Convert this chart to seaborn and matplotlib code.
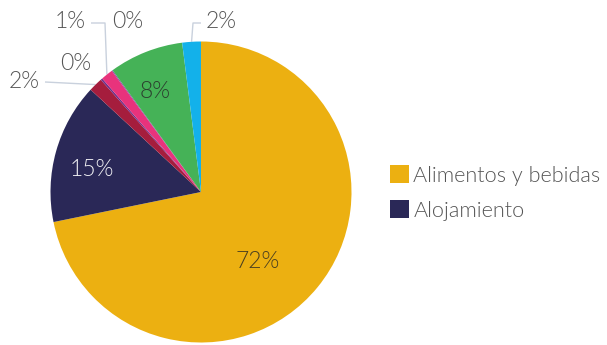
import matplotlib
matplotlib.use("Agg")
import matplotlib.pyplot as plt
import seaborn as sns
import numpy as np

# Spending share by category (percent)
categories = ["Alimentos y bebidas", "Alojamiento", "Transporte", "Salud",
              "Compras", "Comunicaciones", "Recreación", "Otros"]
values = [71.8, 15.1, 1.5, 0.2, 1.3, 0.1, 8.0, 2.0]
colors = ["#ECB011", "#2A2857", "#A51D3D", "#6E2F8A", "#E8337C",
          "#8A3FA0", "#45B257", "#13B1EA"]
legend_count = 2

sns.set_theme(style="white")
plt.rcParams["font.family"] = ["Lato", "DejaVu Sans"]

W, H = 607, 345
fig = plt.figure(figsize=(W / 100, H / 100), dpi=100)
R_PX = 150.5
cx, cy = 201, 345 - 192
span = 1.35
side = 2 * span * R_PX
ax = fig.add_axes([(cx - side / 2) / W, (cy - side / 2) / H, side / W, side / H])

wedges, _ = ax.pie(values, colors=colors, startangle=90, counterclock=False,
                   radius=1.0, wedgeprops=dict(linewidth=0))
ax.set_xlim(-span, span)
ax.set_ylim(-span, span)
ax.set_aspect("equal")
ax.axis("off")

labels = [f"{round(v)}%" for v in values]
text_gray = "#555555"
line_col = "#C9D1DD"
fs = 16.5
legend_fs = 15.6
weight = 300

def edge(i, r=1.0):
    w = wedges[i]
    a = np.deg2rad((w.theta1 + w.theta2) / 2)
    return r * np.cos(a), r * np.sin(a)

def p2d(px, py):
    return (px - cx) / R_PX, (192 - py) / R_PX

# labels inside the large slices
inner = {0: (p2d(258, 262), "#4a3f20"), 1: (p2d(92, 170), "#f2f2f5"),
         6: (p2d(155, 92), "#2c3f2f")}
for i, ((x, y), c) in inner.items():
    ax.text(x, y, labels[i], ha="center", va="center", fontsize=fs,
            color=c, fontweight=weight)

# labels outside the small slices, with leader lines
outer = {
    2: (p2d(24, 81), [p2d(45, 82)]),
    3: (p2d(76, 63), None),
    4: (p2d(70, 21), [p2d(91, 23), p2d(105, 23)]),
    5: (p2d(128, 21), None),
    7: (p2d(221, 21), [p2d(201, 23), p2d(193, 23)]),
}
for i, (pos, path) in outer.items():
    ax.text(pos[0], pos[1], labels[i], ha="center", va="center", fontsize=fs,
            color=text_gray, fontweight=weight)
    if path:
        ex, ey = edge(i, 1.0)
        xs = [p[0] for p in path] + [ex]
        ys = [p[1] for p in path] + [ey]
        ax.plot(xs, ys, color=line_col, lw=1, solid_capstyle="butt", zorder=0)

leg = fig.legend(wedges[:legend_count], categories[:legend_count],
                 loc="center left", bbox_to_anchor=(390 / W, 1 - 193 / H),
                 frameon=False, fontsize=legend_fs, handlelength=0.88,
                 handleheight=0.88, handletextpad=0.2, labelspacing=0.68,
                 borderaxespad=0, borderpad=0)
for t in leg.get_texts():
    t.set_color(text_gray)
    t.set_fontweight(weight)

fig.savefig("out.png", dpi=100)
